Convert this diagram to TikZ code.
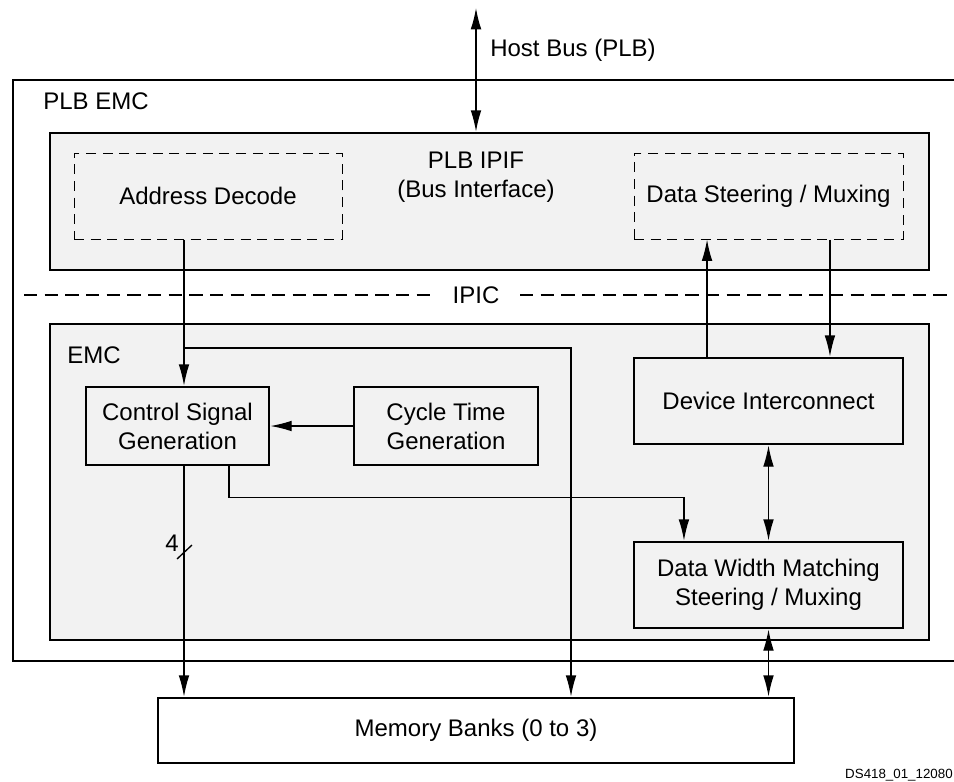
\documentclass[tikz,border=0pt]{standalone}
\usepackage{fontspec}
\setmainfont{Liberation Sans}
\usetikzlibrary{arrows.meta}

\begin{document}
\begin{tikzpicture}[x=0.75pt,y=-0.75pt,
  txt/.style={font=\fontsize{18}{21.75}\selectfont,inner sep=0pt},
  blk/.style={draw,line width=2pt,fill=black!5,align=center,txt},
  sub/.style={draw,dash pattern=on 7.5pt off 5pt,line width=0.75pt,align=center,txt},
  wire/.style={line width=1pt},
  arr/.style={wire,-{Latex[length=16pt,width=8pt]}},
  dbl/.style={wire,{Latex[length=16pt,width=8pt]}-{Latex[length=16pt,width=8pt]}}]
  \useasboundingbox (0,0) rectangle (954,782);
  % PLB EMC frame, open to the right
  \draw[line width=1.8pt] (954,80) -| (13,661) -- (954,661);
  \node[anchor=west,txt] (plbemc) at (43,101) {PLB EMC};
  % bus interface
  \node[blk,minimum width=659.25pt,minimum height=102.75pt] (ipif) at (489.5,201.5) {};
  \node[align=center,txt] (ipiflbl) at (476,177) {PLB IPIF\\(Bus Interface)};
  \node[sub,minimum width=201pt,minimum height=64.5pt] (addr) at (208,196) {Address Decode};
  \node[sub,minimum width=201.75pt,minimum height=64.5pt] (steer) at (768.5,196) {Data Steering / Muxing};
  \coordinate (host) at (476,8);
  \draw[dbl] (host) -- (host |- ipif.north);
  \node[anchor=west,txt] (hostlbl) at (490,50) {Host Bus (PLB)};
  % IPIC line
  \coordinate (ipicl) at (24,295);
  \coordinate (ipicr) at (954,295);
  \draw[line width=1.5pt,dash pattern=on 10pt off 5.5pt] (ipicl) -- (ipicr);
  \node[txt,fill=white,inner xsep=12pt,inner ysep=2pt] (ipic) at (476,295) {IPIC};
  % EMC core
  \node[blk,minimum width=659.25pt,minimum height=237pt] (emc) at (489.5,482) {};
  \node[anchor=west,txt] (emclbl) at (67,355) {EMC};
  \node[blk,minimum width=137.25pt,minimum height=58.5pt] (csg) at (177.5,426) {Control Signal\\Generation};
  \node[blk,minimum width=138pt,minimum height=58.5pt] (cyc) at (446,426) {Cycle Time\\Generation};
  \node[blk,minimum width=201.75pt,minimum height=64.5pt] (di) at (768.5,401) {Device Interconnect};
  \node[blk,minimum width=201.75pt,minimum height=64.5pt] (dwm) at (768.5,585) {Data Width Matching\\Steering / Muxing};
  % memory
  \node[draw,line width=2pt,fill=white,minimum width=477pt,minimum height=48.75pt,txt] (mem) at (476,730.5) {Memory Banks (0 to 3)};
  \node[anchor=east,font=\fontsize{10}{12}\selectfont,inner sep=0pt] (dsid) at (953,775) {DS418\_01\_12080};
  % connections
  \coordinate (split) at (184,348);
  \coordinate (bus) at (571,348);
  \draw[arr] ([xshift=-18pt]addr.south) -- (split |- csg.north);
  \draw[arr] (split) -- (bus) -- (bus |- mem.north);
  \draw[arr] (cyc) -- (csg);
  \draw[arr] (split |- csg.south) -- (split |- mem.north);
  \coordinate (four) at (184,552);
  \draw[wire] ([shift={(-7,7)}]four) -- ([shift={(8,-7)}]four);
  \node[anchor=east,txt] (bits) at (179,543) {4};
  \draw[arr] ([xshift=38.6pt]csg.south) -- ++(0,31) -| ([xshift=-63.4pt]dwm.north);
  \draw[arr] ([xshift=-46.1pt]di.north) -- ([xshift=-46.1pt]steer.south);
  \draw[arr] ([xshift=46.1pt]steer.south) -- ([xshift=46.1pt]di.north);
  \draw[dbl] (di) -- (dwm);
  \draw[dbl] (dwm.south) -- (dwm.south |- mem.north);
\end{tikzpicture}
\end{document}
